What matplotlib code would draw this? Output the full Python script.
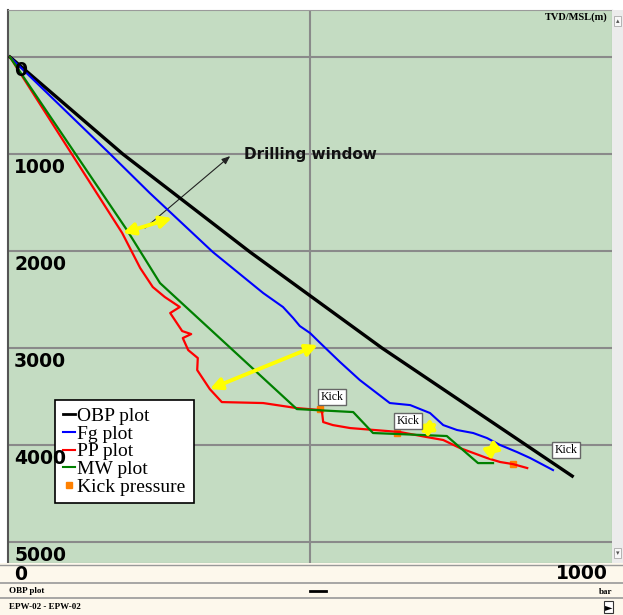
"""plot.py - pressure vs depth (EPW-02)"""

import matplotlib.pyplot as plt
from matplotlib.lines import Line2D

# depth (m) vs pressure (bar) for each curve
obp_bar = [0, 188, 400, 620, 937]
obp_depth = [0, 1000, 2010, 3000, 4320]

fg_bar = [0, 167, 233, 338, 422, 455, 472, 483, 500, 517, 550, 583,
          633, 667, 700, 722, 745, 772, 795, 817, 845, 867, 905]
fg_depth = [0, 1000, 1402, 2010, 2433, 2577, 2691, 2773, 2845, 2948,
            3144, 3330, 3567, 3588, 3670, 3794, 3845, 3876, 3928, 4000, 4072,
            4134, 4258]

pp_bar = [0, 103, 187, 217, 238, 258, 283, 267, 287, 302, 288, 297, 313,
          312, 333, 353, 422, 478, 517, 520, 522, 538, 567, 650, 695, 722,
          750, 795, 817, 838, 862]
pp_depth = [0, 1000, 1814, 2175, 2371, 2474, 2577, 2639, 2825, 2856, 2897,
            3021, 3103, 3227, 3423, 3557, 3567, 3619, 3639, 3660, 3763, 3794,
            3825, 3866, 3918, 3948, 4031, 4134, 4175, 4196, 4237]

mw_bar = [0, 195, 250, 478, 572, 605, 728, 755, 780, 805]
mw_depth = [0, 1784, 2330, 3629, 3660, 3876, 3907, 4052, 4186, 4186]

kick_bar = [517, 645, 838]
kick_depth = [3629, 3876, 4196]

# "Kick" label positions
kick_lbl_bar = [537, 663, 927]
kick_lbl_depth = [3505, 3753, 4052]

# yellow double arrows (drilling window)
win_from = [(188, 1814), (333, 3423), (683, 3876), (792, 4103)]
win_to = [(270, 1660), (513, 2969), (713, 3773), (815, 3990)]

depth_ticks = [0, 1000, 2000, 3000, 4000, 5000]

W, H = 623, 615
fig = plt.figure(figsize=(W / 100, H / 100), dpi=100)
fig.patch.set_facecolor('white')

ax = fig.add_axes([8 / W, 1 - 563 / H, 604 / W, 553 / H])
ax.set_facecolor('#c4dcc2')
ax.set_xlim(-3.3, 1003.3)
ax.set_ylim(5216, -485)
ax.set_xticks([])
ax.set_yticks([])
for s in ax.spines.values():
    s.set_color('#9a9a9a')
ax.spines['left'].set_color('#555555')
ax.spines['left'].set_linewidth(1.5)

for d in depth_ticks:
    ax.axhline(d, color='#8a8a8a', lw=1.5, zorder=1)
    ax.annotate(str(d), (0, d), xytext=(3, -3), textcoords='offset points',
                ha='left', va='top', fontsize=13.5, fontweight='bold',
                color='black', zorder=9)
ax.axvline(500, color='#8a8a8a', lw=1.5, zorder=1)

ax.plot(obp_bar, obp_depth, color='black', lw=2.4, zorder=4)
ax.plot(fg_bar, fg_depth, color='#0000ff', lw=1.5, zorder=4)
ax.plot(pp_bar, pp_depth, color='#ff0000', lw=1.6, zorder=4)
ax.plot(mw_bar, mw_depth, color='#008000', lw=1.6, zorder=4)
ax.plot(kick_bar, kick_depth, 's', color='#ff8000', ms=5, zorder=3)

for b, d in zip(kick_lbl_bar, kick_lbl_depth):
    ax.text(b, d, 'Kick', family='Liberation Serif', fontsize=8.5,
            ha='center', va='center', zorder=6,
            bbox=dict(boxstyle='square,pad=0.2', fc='white', ec='#666666', lw=1))

for p0, p1 in zip(win_from, win_to):
    ax.annotate('', xy=p1, xytext=p0, zorder=5,
                arrowprops=dict(arrowstyle='<|-|>,head_length=0.7,head_width=0.35',
                                color='#ffff00', lw=2.8, shrinkA=0, shrinkB=0))

ax.annotate('', xy=(367, 1021), xytext=(225, 1763),
            arrowprops=dict(arrowstyle='-|>,head_length=0.5,head_width=0.2',
                            color='#222222', lw=0.8, shrinkA=0, shrinkB=0))
ax.text(390, 1000, 'Drilling window', fontsize=11, fontweight='bold',
        ha='left', va='center', color='#111111')

ax.text(0.993, 0.996, 'TVD/MSL(m)', transform=ax.transAxes, ha='right',
        va='top', family='Liberation Serif', fontweight='bold', fontsize=7.5)

handles = [Line2D([], [], color='black', lw=2),
           Line2D([], [], color='#0000ff', lw=1.5),
           Line2D([], [], color='#ff0000', lw=1.5),
           Line2D([], [], color='#008000', lw=1.5),
           Line2D([], [], ls='', marker='s', color='#ff8000', ms=5)]
labels = ['OBP plot', 'Fg plot', 'PP plot', 'MW plot', 'Kick pressure']
leg = ax.legend(handles, labels, loc='upper left', bbox_to_anchor=(0.078, 0.295),
                prop={'family': 'Liberation Serif', 'size': 14},
                handlelength=0.6, handletextpad=0.15, labelspacing=0.0,
                borderpad=0.4, borderaxespad=0, fancybox=False,
                framealpha=1, edgecolor='black')
leg.get_frame().set_linewidth(1.2)
leg.set_zorder(7)

# scrollbar on the right
sb = fig.add_axes([612 / W, 1 - 563 / H, 11 / W, 553 / H])
sb.set_facecolor('#ececec')
sb.set_xticks([])
sb.set_yticks([])
for s in sb.spines.values():
    s.set_visible(False)
sb.text(0.5, 0.985, '\u25b4', ha='center', va='top', fontsize=5,
        color='#555555', transform=sb.transAxes,
        bbox=dict(boxstyle='square,pad=0.3', fc='#f8f8f8', ec='#aaaaaa', lw=0.6))
sb.text(0.5, 0.012, '\u25be', ha='center', va='bottom', fontsize=5,
        color='#555555', transform=sb.transAxes,
        bbox=dict(boxstyle='square,pad=0.3', fc='#f8f8f8', ec='#aaaaaa', lw=0.6))

# bottom panel with pressure axis labels
bp = fig.add_axes([0, 0, 1, 52 / H])
bp.set_xlim(0, W)
bp.set_ylim(615, 563)
bp.set_facecolor('#fdf8ec')
bp.set_xticks([])
bp.set_yticks([])
for s in bp.spines.values():
    s.set_visible(False)
bp.axhline(565, color='#999999', lw=1)
bp.axhline(583, color='#999999', lw=1.2)
bp.axhline(598, color='#999999', lw=1.2)
bp.text(14, 575, '0', fontsize=13.5, fontweight='bold', ha='left', va='center')
bp.text(608, 574, '1000', fontsize=13.5, fontweight='bold', ha='right', va='center')
bp.text(9, 591, 'OBP plot', family='Liberation Serif', fontweight='bold',
        fontsize=6.5, ha='left', va='center')
bp.plot([310, 326], [591, 591], color='black', lw=2)
bp.text(612, 592, 'bar', family='Liberation Serif', fontweight='bold',
        fontsize=6.5, ha='right', va='center')
bp.text(9, 607, 'EPW-02 - EPW-02', family='Liberation Serif', fontweight='bold',
        fontsize=6.5, ha='left', va='center')
bp.text(612, 607, '\u25ba', fontsize=7, ha='right', va='center',
        bbox=dict(boxstyle='square,pad=0.1', fc='white', ec='#333333', lw=0.8))

fig.savefig('out.png', dpi=100)
